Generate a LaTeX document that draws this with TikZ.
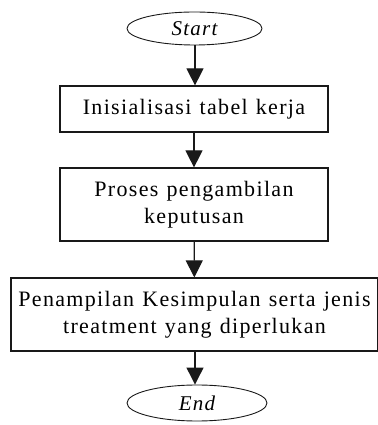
\documentclass[tikz,border=0pt]{standalone}
\usepackage{fontspec}
\usepackage{tikz}
\usetikzlibrary{arrows.meta,shapes.geometric}
\newfontfamily\flowfont[LetterSpace=6,WordSpace=1.2]{Liberation Serif}
\definecolor{lineblack}{RGB}{25,25,25}

\begin{document}
\begin{tikzpicture}[x=1pt, y=1pt,
        procbox/.style={draw=lineblack, line width=1.2pt, rectangle, align=center, inner sep=0pt,
            font=\flowfont\fontsize{22}{27}\selectfont},
        termnode/.style={draw=lineblack, line width=0.9pt, ellipse, inner sep=0pt,
            font=\flowfont\itshape\fontsize{21}{22}\selectfont},
        flowarrow/.style={line width=1.2pt, draw=lineblack, -{Triangle[width=17pt, length=17pt]}}]
        \useasboundingbox (0,0) rectangle (377,425);

        % Terminal nodes
        \node[termnode, minimum width=135pt, minimum height=33pt] (start) at (194.5,396.5) {Start};
        \node[termnode, minimum width=140pt, minimum height=36pt] (end) at (197,22) {End};

        % Process boxes
        \node[procbox, minimum width=268pt, minimum height=46pt] (init) at (194,316) {Inisialisasi tabel kerja};
        \node[procbox, minimum width=268pt, minimum height=73pt] (decide) at (194,220.5) {Proses pengambilan\\keputusan};
        \node[procbox, minimum width=367pt, minimum height=73pt] (result) at (194.5,110.5) {Penampilan Kesimpulan serta jenis\\treatment yang diperlukan};

        % Flow
        \draw[flowarrow] (start.south -| 195,0) -- (init.north -| 195,0);
        \draw[flowarrow] (init) -- (decide);
        \draw[flowarrow] (decide) -- (result);
        \draw[flowarrow] (result.south -| 195,0) -- (end.north -| 195,0);
    \end{tikzpicture}
\end{document}
